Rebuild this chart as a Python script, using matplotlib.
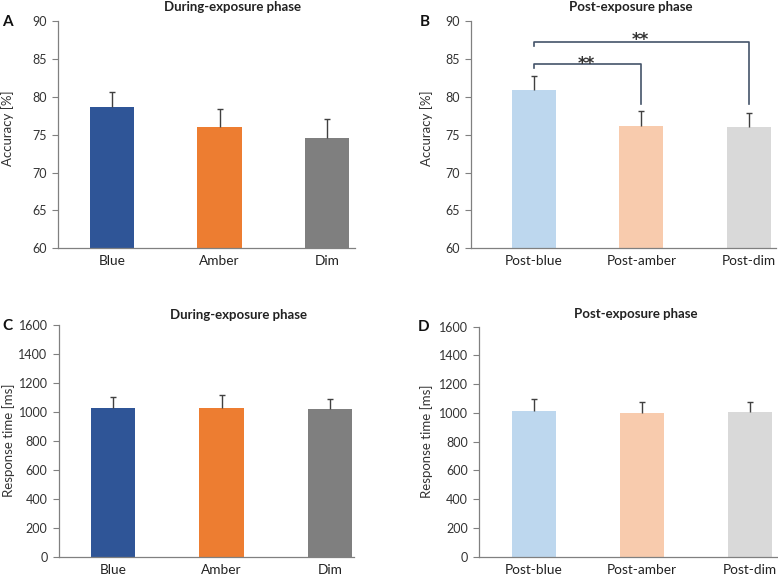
import numpy as np
import matplotlib.pyplot as plt

plt.rcParams['font.family'] = ['Lato', 'DejaVu Sans']

# data
during_labels = ['Blue', 'Amber', 'Dim']
post_labels = ['Post-blue', 'Post-amber', 'Post-dim']
during_colors = ['#2F5597', '#ED7D31', '#7F7F7F']
post_colors = ['#BDD7EE', '#F8CBAD', '#D9D9D9']

acc_during = [78.7, 76.0, 74.55]
acc_during_err = [1.9, 2.4, 2.45]
acc_post = [80.9, 76.2, 76.05]
acc_post_err = [1.8, 1.9, 1.85]

rt_during = [1030, 1027, 1020]
rt_during_err = [71, 92, 67]
rt_post = [1016, 1000, 1007]
rt_post_err = [80, 78, 70]

W, H = 778, 577
fig = plt.figure(figsize=(W / 100, H / 100), dpi=100)


def px_ax(x0, y0, x1, y1):
    # axes from pixel box (top-left origin)
    return fig.add_axes([x0 / W, 1 - y1 / H, (x1 - x0) / W, (y1 - y0) / H])


def ptext(x, y, s, **kw):
    fig.text(x / W, 1 - y / H, s, **kw)


def panel(ax, vals, errs, labels, colors, xlim, ylim, yticks):
    ind = np.arange(len(vals))
    ax.bar(ind, np.array(vals) - ylim[0], 0.41, bottom=ylim[0], color=colors, zorder=2)
    eb = ax.errorbar(ind, vals, yerr=[np.zeros(len(errs)), errs], fmt='none',
                     ecolor='#404040', elinewidth=1.0, capsize=2.5, capthick=1.0, zorder=3)
    eb[1][0].set_visible(False)  # no cap at bar top
    ax.set_xlim(*xlim)
    ax.set_ylim(*ylim)
    ax.set_yticks(yticks)
    ax.set_xticks(ind)
    ax.set_xticklabels(labels, fontsize=9.8, color='#222222')
    ax.tick_params(axis='x', length=0, pad=5)
    ax.tick_params(axis='y', length=4, width=0.8, color='#808080', labelsize=9, labelcolor='#333333', pad=4)
    for s in ['top', 'right']:
        ax.spines[s].set_visible(False)
    for s in ['left', 'bottom']:
        ax.spines[s].set_color('#808080')
        ax.spines[s].set_linewidth(0.9)


axA = px_ax(58, 21, 355, 248.3)
panel(axA, acc_during, acc_during_err, during_labels, during_colors,
      (-0.502, 2.26), (60, 90), range(60, 91, 5))
axB = px_ax(471, 21, 776, 248.3)
panel(axB, acc_post, acc_post_err, post_labels, post_colors,
      (-0.587, 2.255), (60, 90), range(60, 91, 5))
axC = px_ax(58.7, 325, 354, 556.7)
panel(axC, rt_during, rt_during_err, during_labels, during_colors,
      (-0.5, 2.22), (0, 1600), range(0, 1601, 200))
axD = px_ax(479, 326.7, 777, 556.7)
panel(axD, rt_post, rt_post_err, post_labels, post_colors,
      (-0.51, 2.25), (0, 1600), range(0, 1601, 200))

# significance brackets in panel B
bc = '#44546A'
axB.plot([0, 0, 1, 1], [83.8, 84.3, 84.3, 79.0], color=bc, lw=1.2, clip_on=False)
axB.plot([0, 0, 2, 2], [86.7, 87.2, 87.2, 79.0], color=bc, lw=1.2, clip_on=False)
skw = dict(ha='center', va='baseline', fontsize=12, fontweight='bold',
           color='#333333', family='DejaVu Sans')
axB.text(0.485, 83.64, '**', **skw)
axB.text(0.995, 86.85, '**', **skw)

# titles, panel letters, y labels
tkw = dict(ha='center', va='center', fontsize=9.5, fontweight='bold', color='#222222')
ptext(232, 7, 'During-exposure phase', **tkw)
ptext(631, 7, 'Post-exposure phase', **tkw)
ptext(238, 315, 'During-exposure phase', **tkw)
ptext(636, 314, 'Post-exposure phase', **tkw)

lkw = dict(ha='left', va='center', fontsize=11, fontweight='bold', color='#111111')
ptext(2, 22, 'A', **lkw)
ptext(420, 22, 'B', **lkw)
ptext(2, 326, 'C', **lkw)
ptext(418, 327, 'D', **lkw)

ykw = dict(ha='center', va='center', rotation=90, fontsize=9.5, color='#333333')
ptext(8, 128, 'Accuracy [%]', **ykw)
ptext(427, 128, 'Accuracy [%]', **ykw)
ptext(9, 440, 'Response time [ms]', **ykw)
ptext(427, 441, 'Response time [ms]', **ykw)

fig.savefig('out.png', dpi=100)
